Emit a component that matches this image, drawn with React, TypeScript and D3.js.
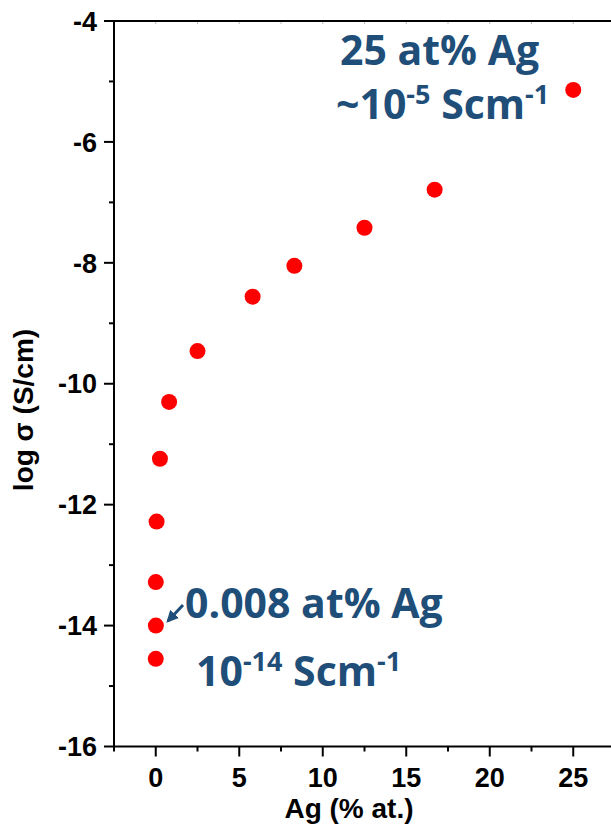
import React from "react";
import * as d3 from "d3";

const agContent = [0, 0.003, 0.008, 0.05, 0.25, 0.8, 2.5, 5.8, 8.3, 12.5, 16.7, 25];
const logSigma = [-14.55, -13.28, -14.0, -12.28, -11.24, -10.3, -9.46, -8.56, -8.05, -7.42, -6.79, -5.14];
const xMajorTicks = [0, 5, 10, 15, 20, 25];
const xMinorTicks = [-2.5, 2.5, 7.5, 12.5, 17.5, 22.5, 27.5];
const yMajorTicks = [-4, -6, -8, -10, -12, -14, -16];
const yMinorTicks = [-5, -7, -9, -11, -13, -15];

const W = 611;
const H = 825;
const BLUE = "#1F4E79";

export default function App() {
  const x = d3.scaleLinear().domain([-2.5, 27.5]).range([114, 615]);
  const y = d3.scaleLinear().domain([-16, -4]).range([746.5, 21]);
  const tickFont = "'Liberation Sans', Arial, sans-serif";
  const annFont = "'Open Sans', 'Noto Sans', sans-serif";
  const x0 = x(-2.5);
  const yb = y(-16);
  const AF = 41;
  const SF = 27;
  return (
    <svg width={W} height={H} style={{ position: "absolute", left: 0, top: 0 }}>
      <rect width={W} height={H} fill="#fff" />
      {[...xMajorTicks, ...xMinorTicks].map((t) => (
        <line key={"tt" + t} x1={x(t)} x2={x(t)} y1={y(-4)} y2={y(-4) + 3} stroke="#bbb" strokeWidth={1} />
      ))}
      <line x1={x0} x2={x0} y1={y(-4)} y2={yb} stroke="#000" strokeWidth={2} />
      <line x1={x0} x2={W + 5} y1={yb} y2={yb} stroke="#000" strokeWidth={2} />
      <line x1={x0} x2={W + 5} y1={y(-4)} y2={y(-4)} stroke="#000" strokeWidth={2} />
      {yMajorTicks.map((t) => (
        <g key={"ym" + t}>
          <line x1={x0 - 10} x2={x0} y1={y(t)} y2={y(t)} stroke="#000" strokeWidth={2} />
          <text x={x0 - 17} y={y(t)} dy="0.36em" textAnchor="end" fontFamily={tickFont} fontWeight="bold" fontSize={27} fill="#000">
            {t}
          </text>
        </g>
      ))}
      {yMinorTicks.map((t) => (
        <line key={"yn" + t} x1={x0 - 5} x2={x0} y1={y(t)} y2={y(t)} stroke="#000" strokeWidth={2} />
      ))}
      {xMajorTicks.map((t) => (
        <g key={"xm" + t}>
          <line x1={x(t)} x2={x(t)} y1={yb} y2={yb + 10} stroke="#000" strokeWidth={2} />
          <text x={x(t)} y={yb + 40} textAnchor="middle" fontFamily={tickFont} fontWeight="bold" fontSize={27} fill="#000">
            {t}
          </text>
        </g>
      ))}
      {xMinorTicks.map((t) => (
        <line key={"xn" + t} x1={x(t)} x2={x(t)} y1={yb} y2={yb + 5} stroke="#000" strokeWidth={2} />
      ))}
      <text x={349} y={818} textAnchor="middle" fontFamily={tickFont} fontWeight="bold" fontSize={28} fill="#000">
        Ag (% at.)
      </text>
      <text
        transform={`translate(33, 410) rotate(-90)`}
        textAnchor="middle"
        fontFamily={tickFont}
        fontWeight="bold"
        fontSize={28}
        fill="#000"
      >
        log σ (S/cm)
      </text>
      {agContent.map((a, i) => (
        <circle key={"p" + i} cx={x(a)} cy={y(logSigma[i])} r={8} fill="#FF0000" />
      ))}
      <text x={340} y={65} fontFamily={annFont} fontWeight="bold" fontSize={AF} fill={BLUE}>
        25 at% Ag
      </text>
      <text x={336} y={119} fontFamily={annFont} fontWeight="bold" fontSize={AF} fill={BLUE}>
        ~10
        <tspan fontSize={SF} dy={-15}>-5</tspan>
        <tspan dy={15}> Scm</tspan>
        <tspan fontSize={SF} dy={-15}>-1</tspan>
      </text>
      <text x={185} y={618} fontFamily={annFont} fontWeight="bold" fontSize={AF} fill={BLUE}>
        0.008 at% Ag
      </text>
      <text x={196} y={686} fontFamily={annFont} fontWeight="bold" fontSize={AF} fill={BLUE}>
        10
        <tspan fontSize={SF} dy={-15}>-14</tspan>
        <tspan dy={15}> Scm</tspan>
        <tspan fontSize={SF} dy={-15}>-1</tspan>
      </text>
      <defs>
        <marker id="ah" viewBox="0 0 10 10" refX={8} refY={5} markerWidth={4} markerHeight={4} orient="auto">
          <path d="M0,0 L10,5 L0,10 z" fill={BLUE} />
        </marker>
      </defs>
      <line x1={183} x2={168} y1={605} y2={621} stroke={BLUE} strokeWidth={3} markerEnd="url(#ah)" />
    </svg>
  );
}
